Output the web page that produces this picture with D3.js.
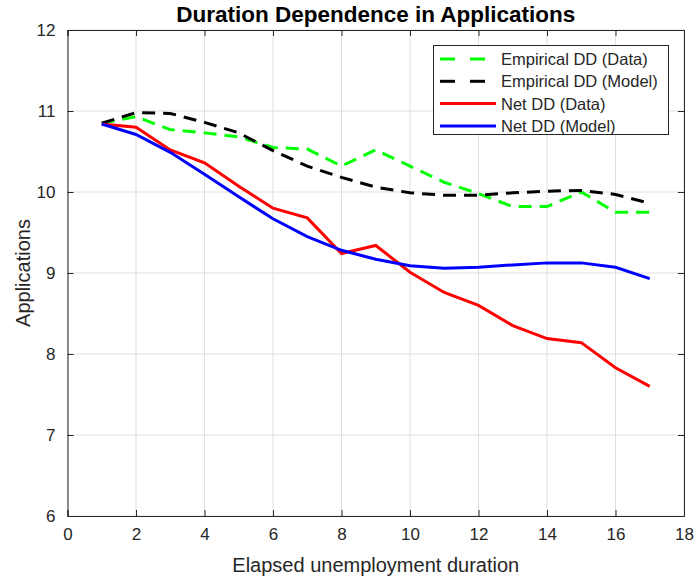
<!DOCTYPE html>
<html>
<head>
<meta charset="utf-8">
<script src="https://cdn.jsdelivr.net/npm/d3@7"></script>
<style>
  body { margin: 0; background: #fff; }
  text { font-family: "Liberation Sans", Arial, sans-serif; }
</style>
</head>
<body>
<div id="vis"></div>
<script>
// durations and the four series
var durations = [1, 2, 3, 4, 5, 6, 7, 8, 9, 10, 11, 12, 13, 14, 15, 16, 17];
var empData  = [10.85, 10.93, 10.77, 10.73, 10.68, 10.55, 10.53, 10.32, 10.52, 10.32, 10.12, 9.98, 9.82, 9.82, 10.0, 9.75, 9.75];
var empModel = [10.85, 10.98, 10.97, 10.86, 10.73, 10.51, 10.32, 10.18, 10.06, 9.99, 9.96, 9.96, 9.99, 10.01, 10.02, 9.97, 9.86];
var netData  = [10.84, 10.80, 10.52, 10.36, 10.07, 9.80, 9.68, 9.24, 9.34, 9.01, 8.76, 8.60, 8.35, 8.19, 8.14, 7.83, 7.60];
var netModel = [10.84, 10.71, 10.49, 10.22, 9.94, 9.67, 9.45, 9.28, 9.17, 9.09, 9.06, 9.07, 9.10, 9.125, 9.125, 9.07, 8.93];
var xTicks = [0, 2, 4, 6, 8, 10, 12, 14, 16, 18];
var yTicks = [6, 7, 8, 9, 10, 11, 12];

var series = [
  {name: 'Empirical DD (Data)',  vals: empData,  color: '#00ff00', dash: true},
  {name: 'Empirical DD (Model)', vals: empModel, color: '#000000', dash: true},
  {name: 'Net DD (Data)',        vals: netData,  color: '#ff0000', dash: false},
  {name: 'Net DD (Model)',       vals: netModel, color: '#0000ff', dash: false}
];

var W = 694, H = 581;
var pl = 67.5, pr = 684, pt = 30, pb = 516;

svg = d3.select('#vis').append('svg')
  .attr('width', W)
  .attr('height', H);

var x = d3.scaleLinear().domain([0, 18]).range([pl, pr]);
var y = d3.scaleLinear().domain([6, 12]).range([pb, pt]);

// grid
var grid = svg.append('g');
xTicks.forEach(function(t) {
  grid.append('line').attr('x1', x(t)).attr('x2', x(t)).attr('y1', pt).attr('y2', pb)
    .attr('stroke', '#dfdfdf').attr('stroke-width', 1);
});
yTicks.forEach(function(t) {
  grid.append('line').attr('x1', pl).attr('x2', pr).attr('y1', y(t)).attr('y2', y(t))
    .attr('stroke', '#dfdfdf').attr('stroke-width', 1);
});

// lines
var line = d3.line()
  .x(function(d, i) { return x(durations[i]); })
  .y(function(d) { return y(d); });

series.forEach(function(s) {
  svg.append('path')
    .attr('d', line(s.vals))
    .attr('fill', 'none')
    .attr('stroke', s.color)
    .attr('stroke-width', 3)
    .attr('stroke-dasharray', s.dash ? '13,8' : null);
});

// axes with inward ticks, box on
var tickLen = 6;
var axisColor = '#262626';
svg.append('g').attr('transform', 'translate(0,' + pb + ')')
  .call(d3.axisBottom(x).tickValues(xTicks).tickSize(-tickLen).tickPadding(12).tickFormat(d3.format('d')));
svg.append('g').attr('transform', 'translate(0,' + pt + ')')
  .call(d3.axisTop(x).tickValues(xTicks).tickSize(-tickLen).tickFormat(''));
svg.append('g').attr('transform', 'translate(' + pl + ',0)')
  .call(d3.axisLeft(y).tickValues(yTicks).tickSize(-tickLen).tickPadding(12).tickFormat(d3.format('d')));
svg.append('g').attr('transform', 'translate(' + pr + ',0)')
  .call(d3.axisRight(y).tickValues(yTicks).tickSize(-tickLen).tickFormat(''));

svg.selectAll('.domain').attr('stroke', axisColor).attr('stroke-width', 1);
svg.selectAll('.tick line').attr('stroke', axisColor);
svg.selectAll('.tick text').attr('fill', axisColor).style('font-size', '17px')
  .style('font-family', '"Liberation Sans", Arial, sans-serif');

// title and labels
svg.append('text').attr('x', (pl + pr) / 2).attr('y', 22)
  .attr('text-anchor', 'middle').style('font-size', '22.5px').style('font-weight', 'bold')
  .text('Duration Dependence in Applications');
svg.append('text').attr('x', (pl + pr) / 2).attr('y', 572)
  .attr('text-anchor', 'middle').style('font-size', '20px').attr('fill', axisColor)
  .text('Elapsed unemployment duration');
svg.append('text').attr('transform', 'translate(30,' + ((pt + pb) / 2) + ') rotate(-90)')
  .attr('text-anchor', 'middle').style('font-size', '20px').attr('fill', axisColor)
  .text('Applications');

// legend
var lg = svg.append('g');
lg.append('rect').attr('x', 433.5).attr('y', 45.5).attr('width', 235).attr('height', 89)
  .attr('fill', '#fff').attr('stroke', '#262626').attr('stroke-width', 1);
series.forEach(function(s, i) {
  var ly = 59 + i * 22.3;
  if (s.dash) {
    [[440, 455], [470, 485]].forEach(function(seg) {
      lg.append('line').attr('x1', seg[0]).attr('x2', seg[1]).attr('y1', ly).attr('y2', ly)
        .attr('stroke', s.color).attr('stroke-width', 3);
    });
  } else {
    lg.append('line').attr('x1', 440).attr('x2', 496).attr('y1', ly).attr('y2', ly)
      .attr('stroke', s.color).attr('stroke-width', 3);
  }
  lg.append('text').attr('x', 501).attr('y', ly + 6).style('font-size', '16.5px').attr('fill', axisColor)
    .text(s.name);
});
</script>
</body>
</html>
